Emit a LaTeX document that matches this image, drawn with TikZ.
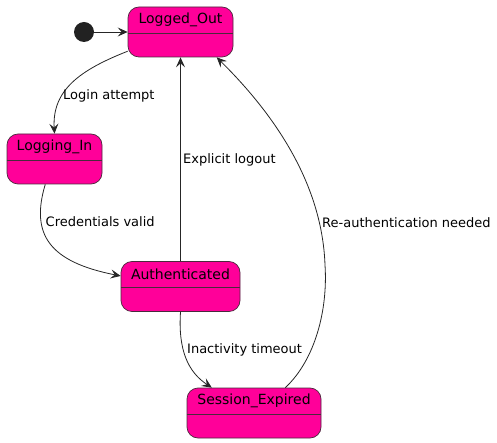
\documentclass[tikz,border=0pt]{standalone}
\usepackage{fontspec}
\setmainfont{DejaVu Sans}
\usetikzlibrary{arrows.meta}
\definecolor{statefill}{HTML}{FF0099}
\definecolor{stateline}{HTML}{4A2A3C}
\definecolor{startdot}{HTML}{222222}

\begin{document}
\begin{tikzpicture}[x=1pt,y=-1pt,
  state/.style={draw=stateline,fill=statefill,rounded corners=11pt,line width=0.7pt,inner sep=0pt},
  statename/.style={inner sep=0pt,font=\fontsize{14pt}{16pt}\selectfont},
  edgelabel/.style={inner sep=0pt,anchor=west,font=\fontsize{13pt}{15pt}\selectfont},
  trans/.style={draw=black!85,line width=0.8pt,-{Stealth[length=10pt,width=9pt,inset=4pt]}}]
\useasboundingbox (0,0) rectangle (497,443);
\node[circle,fill=startdot,minimum size=20pt,inner sep=0pt] (start) at (84,32) {};
\node[state,minimum width=105pt,minimum height=50pt] (out) at (180.5,32) {};
\node[statename] (outname) at (180.5,20) {Logged\_Out};
\draw[stateline,line width=0.7pt] (out.west |- 0,33) -- (out.east |- 0,33);
\node[state,minimum width=95pt,minimum height=50pt] (login) at (54.5,159) {};
\node[statename] (loginname) at (54.5,147) {Logging\_In};
\draw[stateline,line width=0.7pt] (login.west |- 0,160) -- (login.east |- 0,160);
\node[state,minimum width=119pt,minimum height=50pt] (auth) at (180.5,286.5) {};
\node[statename] (authname) at (180.5,274) {Authenticated};
\draw[stateline,line width=0.7pt] (auth.west |- 0,287.5) -- (auth.east |- 0,287.5);
\node[state,minimum width=134pt,minimum height=50pt] (sess) at (254,413) {};
\node[statename] (sessname) at (254,401) {Session\_Expired};
\draw[stateline,line width=0.7pt] (sess.west |- 0,414) -- (sess.east |- 0,414);
\draw[trans] (start) -- (out.west);
\draw[trans] (out.200) .. controls (80,70) and (52,90) .. (login.north);
\draw[trans] (login.250) .. controls (30,235) and (50,262) .. (auth.170);
\draw[trans] (auth.north) -- (out.south);
\draw[trans] (auth.south) .. controls (178,350) and (188,372) .. (sess.149);
\draw[trans] (sess.39) .. controls (315,360) and (328,310) .. (325,265) .. controls (322,180) and (270,110) .. (out.325);
\node[edgelabel] (lblogin) at (63,96) {Login attempt};
\node[edgelabel] (lbcred) at (45.5,221.5) {Credentials valid};
\node[edgelabel] (lblogout) at (183,159.5) {Explicit logout};
\node[edgelabel] (lbtimeout) at (187,349.5) {Inactivity timeout};
\node[edgelabel] (lbreauth) at (322,222.5) {Re-authentication needed};
\end{tikzpicture}
\end{document}
